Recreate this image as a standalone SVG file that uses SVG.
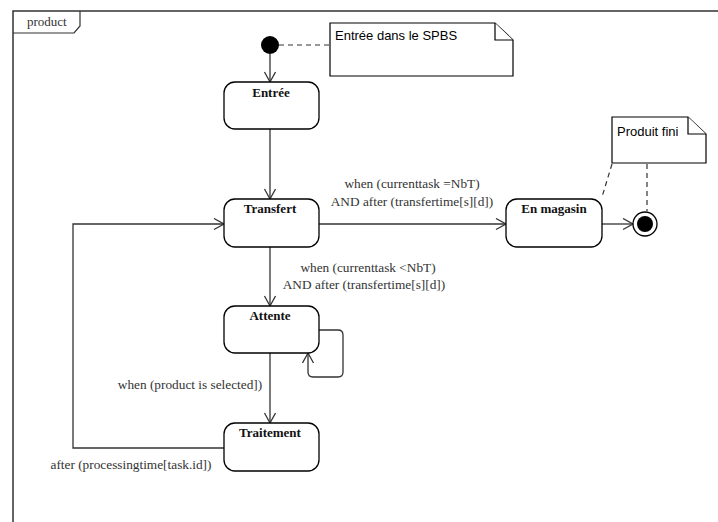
<svg xmlns="http://www.w3.org/2000/svg" width="718" height="522" viewBox="0 0 718 522">
<style>
.state{fill:#fff;stroke:#000;stroke-width:1.3}
.sname{font-family:"Liberation Serif",serif;font-weight:bold;font-size:13px;fill:#111;text-anchor:middle}
.lbl{font-family:"Liberation Serif",serif;font-size:13.3px;fill:#333}
.note{fill:#fff;stroke:#000;stroke-width:1.2}
.ntxt{font-family:"Liberation Sans",Arial,sans-serif;font-size:13px;fill:#000}
.edge{fill:none;stroke:#333;stroke-width:1.3}
.dash{fill:none;stroke:#333;stroke-width:1.2;stroke-dasharray:5,4}
</style>
<defs>
<marker id="arr" markerUnits="userSpaceOnUse" markerWidth="14" markerHeight="14" refX="11" refY="6" orient="auto">
<path d="M1,0.5 L11,6 L1,11.5" fill="none" stroke="#333" stroke-width="1.3"/>
</marker>
</defs>
<rect width="718" height="522" fill="#fff"/>
<g id="frame">
<path d="M13,530 L13,11 L725,11" fill="none" stroke="#333" stroke-width="1.5"/>
<path d="M13,33 L74,33 L80,26 L80,11" fill="none" stroke="#333" stroke-width="1.2"/>
<text x="27" y="26" font-family="Liberation Serif,serif" font-size="13" fill="#333">product</text>
</g>
<g id="connectors">
<line class="dash" x1="279" y1="45" x2="330" y2="45"/>
<line class="dash" x1="612" y1="164" x2="602" y2="197"/>
<line class="dash" x1="647" y1="164" x2="647" y2="211"/>
<line class="edge" x1="270" y1="54" x2="270" y2="82" marker-end="url(#arr)"/>
<line class="edge" x1="270" y1="129" x2="270" y2="199" marker-end="url(#arr)"/>
<line class="edge" x1="319" y1="224" x2="506" y2="224" marker-end="url(#arr)"/>
<line class="edge" x1="602" y1="224" x2="633" y2="224" marker-end="url(#arr)"/>
<line class="edge" x1="270" y1="247" x2="270" y2="306" marker-end="url(#arr)"/>
<path class="edge" d="M319,330 L338,330 Q343,330 343,335 L343,372 Q343,377 338,377 L313,377 Q308,377 308,372 L308,353" marker-end="url(#arr)"/>
<line class="edge" x1="270" y1="353" x2="270" y2="423" marker-end="url(#arr)"/>
<path class="edge" d="M224,448 L73,448 L73,224 L224,224" marker-end="url(#arr)"/>
<text class="lbl" x="412" y="188" text-anchor="middle">when (currenttask =NbT)</text>
<text class="lbl" x="412" y="206" text-anchor="middle">AND after (transfertime[s][d])</text>
<text class="lbl" x="368" y="272" text-anchor="middle">when (currenttask &lt;NbT)</text>
<text class="lbl" x="364" y="289" text-anchor="middle">AND after (transfertime[s][d])</text>
<text class="lbl" x="190" y="389" text-anchor="middle">when (product is selected])</text>
<text class="lbl" x="131" y="469" text-anchor="middle">after (processingtime[task.id])</text>
</g>
<g id="initial">
<circle cx="270" cy="45" r="9" fill="#000"/>
</g>
<g id="note-entree">
<path class="note" d="M330,23 L495,23 L513,40 L513,76 L330,76 Z"/>
<path class="note" d="M495,23 L495,40 L513,40"/>
<text class="ntxt" x="335" y="40">Entrée dans le SPBS</text>
</g>
<g id="entree">
<rect class="state" x="224" y="82" width="95" height="47" rx="11"/>
<text class="sname" x="271" y="97">Entrée</text>
</g>
<g id="transfert">
<rect class="state" x="224" y="199" width="95" height="48" rx="11"/>
<text class="sname" x="270" y="213">Transfert</text>
</g>
<g id="en-magasin">
<rect class="state" x="506" y="199" width="96" height="48" rx="11"/>
<text class="sname" x="554" y="213">En magasin</text>
</g>
<g id="final">
<circle cx="645" cy="224" r="12" fill="#fff" stroke="#000" stroke-width="1.3"/>
<circle cx="645" cy="224" r="8" fill="#000"/>
</g>
<g id="note-produit">
<path class="note" d="M612,117 L688,117 L706,134 L706,163 L612,163 Z"/>
<path class="note" d="M688,117 L688,134 L706,134"/>
<text class="ntxt" x="617" y="136">Produit fini</text>
</g>
<g id="attente">
<rect class="state" x="224" y="306" width="95" height="47" rx="11"/>
<text class="sname" x="270" y="320">Attente</text>
</g>
<g id="traitement">
<rect class="state" x="224" y="423" width="95" height="48" rx="11"/>
<text class="sname" x="270" y="437">Traitement</text>
</g>
</svg>
